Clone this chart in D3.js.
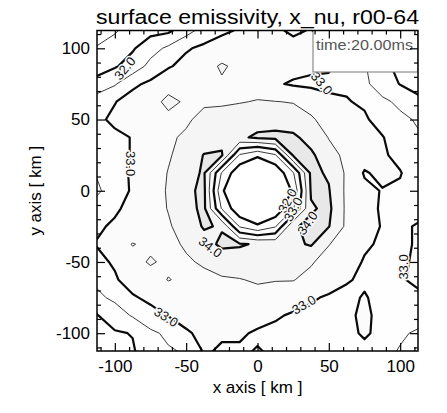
<!DOCTYPE html>
<html>
<head>
<meta charset="utf-8">
<script src="https://cdn.jsdelivr.net/npm/d3@7"></script>
<style>
  body { margin: 0; background: #fff; }
  text { font-family: 'Liberation Sans', Arial, sans-serif; }
</style>
</head>
<body>
<script>
// chart text
const titleText = 'surface emissivity, x_nu, r00-64'
const timeText = 'time:20.00ms'
const xLabelText = 'x axis [ km ]'
const yLabelText = 'y axis [ km ]'

// axes
const axisDomain = [-112.5, 112.5]
const majorTicks = [-100, -50, 0, 50, 100]
const minorTicks = [-110, -90, -80, -70, -60, -40, -30, -20, -10, 10, 20, 30, 40, 60, 70, 80, 90, 110]

// contour levels (thick ones are the labelled integers)
const levels = [31.5, 32.0, 32.5, 33.0, 33.5, 34.0]
const thickLevels = [32.0, 33.0, 34.0]

// sampled field, 19 x 19, x from -112.5 to 112.5 km, rows from y = 112.5 down to -112.5 km
const gridStart = -112.5
const gridStep = 12.5
const emissivity = [
  [31.2, 31.45, 31.7, 31.85, 31.9, 32.3, 32.7, 32.9, 33.05, 33.1, 33.05, 32.95, 33.02, 32.8, 32.6, 32.2, 31.9, 31.8, 31.7],
  [31.55, 31.7, 31.95, 32.3, 32.6, 32.95, 33.1, 33.25, 33.2, 33.2, 33.15, 33.1, 33.1, 33.03, 32.8, 32.4, 31.98, 31.85, 31.7],
  [31.75, 31.95, 32.2, 32.65, 32.95, 33.15, 33.35, 33.55, 33.4, 33.3, 33.2, 33.15, 33.1, 33.03, 32.9, 32.55, 32.1, 31.9, 31.75],
  [32.2, 32.45, 32.9, 33.1, 33.35, 33.45, 33.4, 33.45, 33.4, 33.35, 33.05, 32.95, 32.9, 32.95, 32.95, 32.6, 32.25, 31.98, 31.85],
  [32.75, 32.98, 33.2, 33.35, 33.6, 33.45, 33.45, 33.45, 33.48, 33.52, 33.51, 33.48, 33.35, 33.05, 33.02, 32.95, 32.6, 32.4, 32.1],
  [32.9, 33.1, 33.25, 33.35, 33.4, 33.45, 33.6, 33.65, 33.7, 33.75, 33.75, 33.7, 33.55, 33.35, 33.2, 33.05, 32.85, 32.6, 32.45],
  [32.9, 32.9, 33.02, 33.25, 33.45, 33.55, 33.75, 33.85, 33.9, 34.1, 34.15, 34.1, 33.8, 33.48, 33.3, 33.15, 33.02, 32.8, 32.55],
  [32.9, 32.85, 33.03, 33.25, 33.45, 33.7, 34.02, 34.05, 32.45, 32.05, 32.45, 34.05, 34.1, 33.65, 33.4, 33.2, 33.05, 32.9, 32.7],
  [32.55, 32.85, 33.05, 33.25, 33.52, 33.85, 34.05, 32.45, 31.6, 31.6, 31.6, 32.45, 34.1, 33.95, 33.42, 32.96, 33.1, 33.02, 32.8],
  [32.4, 32.8, 33.05, 33.25, 33.55, 33.9, 34.1, 32.05, 31.6, 31.6, 31.6, 32.05, 34.05, 34.03, 33.4, 33.1, 32.98, 32.95, 32.8],
  [32.75, 32.95, 33.1, 33.3, 33.52, 33.85, 34.1, 32.45, 31.6, 31.6, 31.6, 32.45, 33.95, 34.1, 33.4, 33.15, 32.95, 32.85, 32.8],
  [32.95, 33.05, 33.2, 33.3, 33.45, 33.7, 34.05, 33.95, 32.45, 32.05, 32.45, 33.95, 34.1, 34.02, 33.4, 33.2, 32.97, 32.9, 33.05],
  [33.02, 33.3, 33.52, 33.4, 33.4, 33.55, 33.8, 34.1, 34.05, 33.95, 33.85, 33.9, 34.05, 33.52, 33.25, 33.05, 32.95, 32.9, 33.05],
  [32.9, 33.05, 33.35, 33.55, 33.4, 33.45, 33.55, 33.7, 33.75, 33.8, 33.75, 33.65, 33.55, 33.3, 33.15, 32.97, 32.9, 32.95, 33.05],
  [32.6, 32.95, 33.2, 33.3, 33.52, 33.4, 33.4, 33.45, 33.48, 33.55, 33.52, 33.52, 33.35, 33.2, 33.05, 32.9, 32.8, 32.95, 33.1],
  [32.4, 32.6, 32.95, 33.1, 33.2, 33.3, 33.35, 33.3, 33.35, 33.35, 33.3, 33.2, 33.05, 32.95, 32.85, 33.05, 32.8, 32.7, 32.9],
  [31.98, 32.25, 32.55, 32.85, 33.02, 33.15, 33.2, 33.2, 33.2, 33.15, 33.05, 32.95, 32.9, 32.85, 32.9, 33.1, 32.85, 32.65, 32.8],
  [31.8, 31.95, 32.02, 32.4, 32.6, 32.95, 33.1, 33.05, 33.05, 32.95, 32.9, 32.95, 32.85, 32.8, 32.9, 33.05, 32.9, 32.6, 32.4],
  [31.6, 31.8, 31.95, 32.3, 32.45, 32.55, 33.05, 32.95, 32.95, 33.02, 32.95, 32.9, 32.9, 32.8, 32.7, 32.9, 32.7, 32.45, 32.3]
]

// contour labels, position in km and text angle in degrees
const labelText = ['32.0', '33.0', '33.0', '34.0', '34.0', '32.0', '33.0', '33.0', '33.0', '33.0']
const labelX = [-93, -89, 45, -33, 35, 21, 25, -64, 32.5, 102.5]
const labelY = [86, 19, 75.5, -39.5, -22.7, -7, -13, -88.6, -80, -53.5]
const labelAngle = [-50, 90, 50, 37, -55, -62, -62, 33, -30, -90]

draw()

function draw() {
  const outerWidth = 447
  const outerHeight = 413
  const margin = { left: 97, top: 30.5, right: 29, bottom: 62 }
  const innerWidth = outerWidth - margin.left - margin.right
  const innerHeight = outerHeight - margin.top - margin.bottom
  const fontFamily = "'Liberation Sans', Arial, sans-serif"

  const svg = d3
    .select('body')
    .append('svg')
    .attr('width', outerWidth)
    .attr('height', outerHeight)

  svg
    .append('text')
    .attr('x', margin.left + innerWidth / 2)
    .attr('y', 24)
    .attr('text-anchor', 'middle')
    .attr('textLength', 323)
    .attr('lengthAdjust', 'spacingAndGlyphs')
    .style('font-size', '19.5px')
    .text(titleText)

  const g = svg
    .append('g')
    .attr('transform', `translate(${margin.left},${margin.top})`)

  const xScale = d3.scaleLinear().domain(axisDomain).range([0, innerWidth])
  const yScale = d3.scaleLinear().domain(axisDomain).range([innerHeight, 0])

  g.append('clipPath')
    .attr('id', 'plot-clip')
    .append('rect')
    .attr('width', innerWidth)
    .attr('height', innerHeight)

  // contours
  const n = emissivity.length
  const values = emissivity.flat()
  const bands = d3.contours().size([n, n]).thresholds(levels)(values)

  // grid cell k is centred at k + 0.5 in contour space
  const x0 = gridStart - gridStep / 2
  const y0 = -gridStart + gridStep / 2
  const projection = d3.geoTransform({
    point: function (x, y) {
      this.stream.point(xScale(x0 + gridStep * x), yScale(y0 - gridStep * y))
    }
  })
  const path = d3.geoPath(projection)

  const plot = g.append('g').attr('clip-path', 'url(#plot-clip)')

  plot
    .append('rect')
    .attr('width', innerWidth)
    .attr('height', innerHeight)
    .style('fill', '#ffffff')

  const shade = d3
    .scaleThreshold()
    .domain([32, 33, 33.5, 34])
    .range(['#ffffff', '#fefefe', '#fbfbfb', '#f5f5f5', '#e8e8e8'])

  plot
    .selectAll('.band')
    .data(bands)
    .enter()
    .append('path')
    .attr('class', 'band')
    .attr('d', path)
    .style('fill', d => shade(d.value))
    .style('stroke', 'none')

  plot
    .selectAll('.line')
    .data(bands)
    .enter()
    .append('path')
    .attr('class', 'line')
    .attr('d', path)
    .style('fill', 'none')
    .style('stroke', d => (thickLevels.includes(d.value) ? '#0a0a0a' : '#3a3a3a'))
    .style('stroke-width', d => (thickLevels.includes(d.value) ? 2.2 : 1))
    .style('stroke-linejoin', 'round')

  plot
    .selectAll('.clabel')
    .data(labelText)
    .enter()
    .append('text')
    .attr('class', 'clabel')
    .attr('transform', (d, i) =>
      `translate(${xScale(labelX[i])},${yScale(labelY[i])}) rotate(${labelAngle[i]})`
    )
    .attr('text-anchor', 'middle')
    .attr('dy', '0.35em')
    .style('font-size', '13px')
    .style('fill', '#111')
    .style('stroke', '#f9f9f9')
    .style('stroke-width', 3)
    .style('paint-order', 'stroke')
    .text(d => d)

  // time box
  const boxWidth = 105
  const boxHeight = 41.5
  plot
    .append('rect')
    .attr('x', innerWidth - boxWidth)
    .attr('y', 0)
    .attr('width', boxWidth)
    .attr('height', boxHeight)
    .style('fill', '#ffffff')
    .style('stroke', '#777')
    .style('stroke-width', 1)
  plot
    .append('text')
    .attr('x', innerWidth - boxWidth + 3)
    .attr('y', 19)
    .attr('textLength', 97)
    .attr('lengthAdjust', 'spacingAndGlyphs')
    .style('font-size', '14.5px')
    .style('fill', '#555')
    .text(timeText)

  // axes with inward ticks on all four sides
  const addAxis = (axis, transform, labels) => {
    const a = g.append('g').attr('transform', transform).call(axis)
    a.select('.domain').remove()
    a.selectAll('line').style('stroke', '#000').style('stroke-width', 1.2)
    if (labels) {
      a.selectAll('text').style('font-size', '17px').style('fill', '#000').style('font-family', fontFamily)
    } else {
      a.selectAll('text').remove()
    }
    return a
  }
  const major = 8
  const minor = 4
  const fmt = d => String(d)

  addAxis(
    d3.axisBottom(xScale).tickValues(majorTicks).tickSizeInner(-major).tickSizeOuter(0).tickPadding(9).tickFormat(fmt),
    `translate(0,${innerHeight})`,
    true
  )
  addAxis(d3.axisBottom(xScale).tickValues(minorTicks).tickSizeInner(-minor).tickSizeOuter(0), `translate(0,${innerHeight})`, false)
  addAxis(d3.axisTop(xScale).tickValues(majorTicks).tickSizeInner(-major).tickSizeOuter(0), 'translate(0,0)', false)
  addAxis(d3.axisTop(xScale).tickValues(minorTicks).tickSizeInner(-minor).tickSizeOuter(0), 'translate(0,0)', false)

  addAxis(
    d3.axisLeft(yScale).tickValues(majorTicks).tickSizeInner(-major).tickSizeOuter(0).tickPadding(7).tickFormat(fmt),
    'translate(0,0)',
    true
  )
  addAxis(d3.axisLeft(yScale).tickValues(minorTicks).tickSizeInner(-minor).tickSizeOuter(0), 'translate(0,0)', false)
  addAxis(d3.axisRight(yScale).tickValues(majorTicks).tickSizeInner(-major).tickSizeOuter(0), `translate(${innerWidth},0)`, false)
  addAxis(d3.axisRight(yScale).tickValues(minorTicks).tickSizeInner(-minor).tickSizeOuter(0), `translate(${innerWidth},0)`, false)

  // frame
  g.append('rect')
    .attr('width', innerWidth)
    .attr('height', innerHeight)
    .style('fill', 'none')
    .style('stroke', '#000')
    .style('stroke-width', 1.5)

  // axis titles
  g.append('text')
    .attr('x', innerWidth / 2)
    .attr('y', innerHeight + 42)
    .attr('text-anchor', 'middle')
    .style('font-size', '17px')
    .text(xLabelText)

  g.append('text')
    .attr('transform', `translate(${-56},${innerHeight / 2}) rotate(-90)`)
    .attr('text-anchor', 'middle')
    .style('font-size', '17px')
    .text(yLabelText)
}
</script>
</body>
</html>
